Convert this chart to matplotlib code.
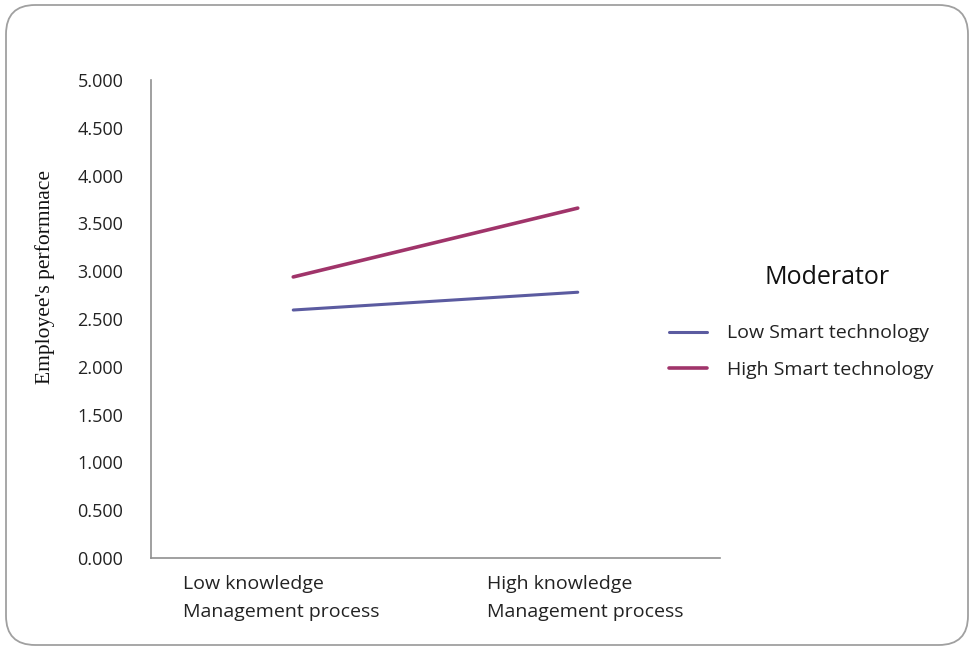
import matplotlib
matplotlib.use("Agg")
import matplotlib.pyplot as plt
from matplotlib.patches import FancyBboxPatch
import matplotlib.transforms as mtrans

categories = ["Low knowledge\nManagement process", "High knowledge\nManagement process"]
low_smart = [2.594, 2.780]
high_smart = [2.940, 3.660]
series_names = ["Low Smart technology", "High Smart technology"]
legend_title = "Moderator"
yticks = [0.0, 0.5, 1.0, 1.5, 2.0, 2.5, 3.0, 3.5, 4.0, 4.5, 5.0]

SANS = ["Open Sans", "DejaVu Sans"]

fig = plt.figure(figsize=(9.73, 6.49), dpi=100)
fig.patch.set_facecolor("white")

# rounded outer frame
frame = FancyBboxPatch((6 / 973, 4 / 649), 962 / 973, 640 / 649,
                       boxstyle="round,pad=0,rounding_size=0.03",
                       transform=fig.transFigure, facecolor="none",
                       edgecolor="#a0a0a0", linewidth=1.3, zorder=-5,
                       mutation_aspect=973 / 649)
fig.patches.append(frame)

ax = fig.add_axes([151 / 973, (649 - 558) / 649, (720 - 151) / 973, (558 - 80) / 649])
ax.set_facecolor("none")

x = [0, 1]
ax.plot(x, low_smart, color="#5b5ba0", lw=2.2, label=series_names[0], solid_capstyle="round")
ax.plot(x, high_smart, color="#a0346a", lw=2.6, label=series_names[1], solid_capstyle="round")

ax.set_xlim(-0.5, 1.5)
ax.set_ylim(0, 5)
ax.set_yticks(yticks)
ax.set_yticklabels([f"{v:.3f}" for v in yticks], fontsize=13, family=SANS, color="#222222")
ax.tick_params(axis="y", length=0, pad=20)
ax.tick_params(axis="x", length=0, pad=12)
ax.set_xticks(x)
ax.set_xticklabels(categories, fontsize=14, family=SANS, color="#222222",
                   ha="left", multialignment="left", linespacing=1.75)
offsets = [(183 - 293) / 100, (487 - 578) / 100]
for lbl, dx in zip(ax.get_xticklabels(), offsets):
    lbl.set_transform(lbl.get_transform() + mtrans.ScaledTranslation(dx, 0, fig.dpi_scale_trans))

for s in ["top", "right"]:
    ax.spines[s].set_visible(False)
for s in ["left", "bottom"]:
    ax.spines[s].set_color("#909090")
    ax.spines[s].set_linewidth(1.2)

fig.text(45 / 973, 1 - 277 / 649, "Employee's performnace", rotation=90,
         ha="center", va="center", fontsize=15.5, family=["Liberation Serif", "DejaVu Serif"],
         color="#111111")

leg = ax.legend(loc="upper left", bbox_to_anchor=(651 / 973, 1 - 307 / 649),
                bbox_transform=fig.transFigure, frameon=False,
                prop={"family": SANS, "size": 14},
                handlelength=2.0, handletextpad=1.0, labelspacing=0.95)
for t in leg.get_texts():
    t.set_color("#222222")

fig.text(827 / 973, 1 - 278 / 649, legend_title, ha="center", va="center",
         fontsize=18, family=SANS, color="#111111")

fig.savefig("out.png", dpi=100, facecolor="white")
